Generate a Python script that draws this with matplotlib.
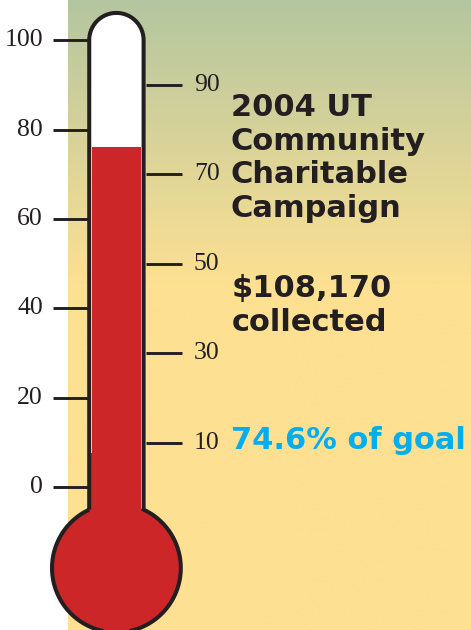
import numpy as np
import matplotlib.pyplot as plt
from matplotlib.path import Path
from matplotlib.patches import PathPatch, Circle
from matplotlib.colors import LinearSegmentedColormap

# chart values
left_ticks = [0, 20, 40, 60, 80, 100]
right_ticks = [10, 30, 50, 70, 90]
fill_level = 76
title_lines = ["2004 UT", "Community", "Charitable", "Campaign"]
amount_lines = ["$108,170", "collected"]
goal_label = "74.6% of goal"

# layout (pixels of the 471x630 picture)
W, H = 471, 630
PX = 4.472          # pixels per scale unit
Y0 = 487.3          # pixel row of value 0
DARK = "#231F20"
RED = "#CC2629"
CYAN = "#00AEEF"


def u(p):
    # pixels -> scale units
    return p / PX


fig = plt.figure(figsize=(W / 100, H / 100), dpi=100)
ax = fig.add_axes([0, 0, 1, 1])
ax.set_xlim(0, u(W))
ax.set_ylim(u(Y0 - H), u(Y0))
ax.set_aspect("equal")
ax.axis("off")

# background gradient (green at the top fading into yellow)
grad_cmap = LinearSegmentedColormap.from_list(
    "bg", [(0.0, "#B4C6A0"), (0.5, "#D9D399"), (1.0, "#FDE092")])
rows = np.clip(np.linspace(0, H, 400) / 285, 0, 1)[:, None]
ax.imshow(rows, cmap=grad_cmap, aspect="auto", zorder=0,
          extent=[u(68), u(W), u(Y0 - H), u(Y0)], origin="upper")

# thermometer geometry
cx = u(116.4)
hw = u(27.2)
top_c = 100
bulb_cy = u(Y0 - 568)
bulb_r = u(64.4)
junc = bulb_cy + np.sqrt(bulb_r ** 2 - hw ** 2)
a1 = np.arctan2(junc - bulb_cy, hw)

verts = [(cx - hw, junc), (cx - hw, top_c)]
for t in np.linspace(np.pi, 0, 60):
    verts.append((cx + hw * np.cos(t), top_c + hw * np.sin(t)))
verts.append((cx + hw, junc))
for t in np.linspace(a1, -np.pi - a1, 120):
    verts.append((cx + bulb_r * np.cos(t), bulb_cy + bulb_r * np.sin(t)))
verts.append(verts[0])
glass = Path(verts)

ax.add_patch(PathPatch(glass, facecolor="white", edgecolor="none", zorder=1))

# red liquid: bulb, neck and column up to the level
ax.add_patch(Circle((cx, bulb_cy), bulb_r, facecolor=RED, edgecolor="none", zorder=2))
ax.bar([u(115.3)], [u(Y0 - 453) - junc + 1], bottom=junc - 1, width=u(51.5),
       color=RED, zorder=2)
ax.bar([u(116.5)], [fill_level - (junc - 1)], bottom=junc - 1, width=u(49),
       color=RED, zorder=2)

ax.add_patch(PathPatch(glass, facecolor="none", edgecolor=DARK, lw=2.9,
                       joinstyle="miter", zorder=3))

# scale ticks and labels
ax.hlines(left_ticks, u(53), u(88), color=DARK, lw=2.1, zorder=1)
ax.hlines(right_ticks, u(145.7), u(181.7), color=DARK, lw=2.1, zorder=1)
for v in left_ticks:
    ax.text(u(43), v, str(v), ha="right", va="center", fontsize=18.5,
            family="Liberation Serif", color=DARK)
for v in right_ticks:
    ax.text(u(194), v, str(v), ha="left", va="center", fontsize=18.5,
            family="Liberation Serif", color=DARK)

# captions
bold = dict(family="DejaVu Sans", fontweight="bold", fontsize=22,
            ha="left", va="top", linespacing=1.2)
fig.text(231 / W, 1 - 93 / H, "\n".join(title_lines), color=DARK, **bold)
fig.text(232 / W, 1 - 274 / H, "\n".join(amount_lines), color=DARK, **bold)
fig.text(231 / W, 1 - 426 / H, goal_label, color=CYAN, **bold)

fig.savefig("out.png", dpi=100)
